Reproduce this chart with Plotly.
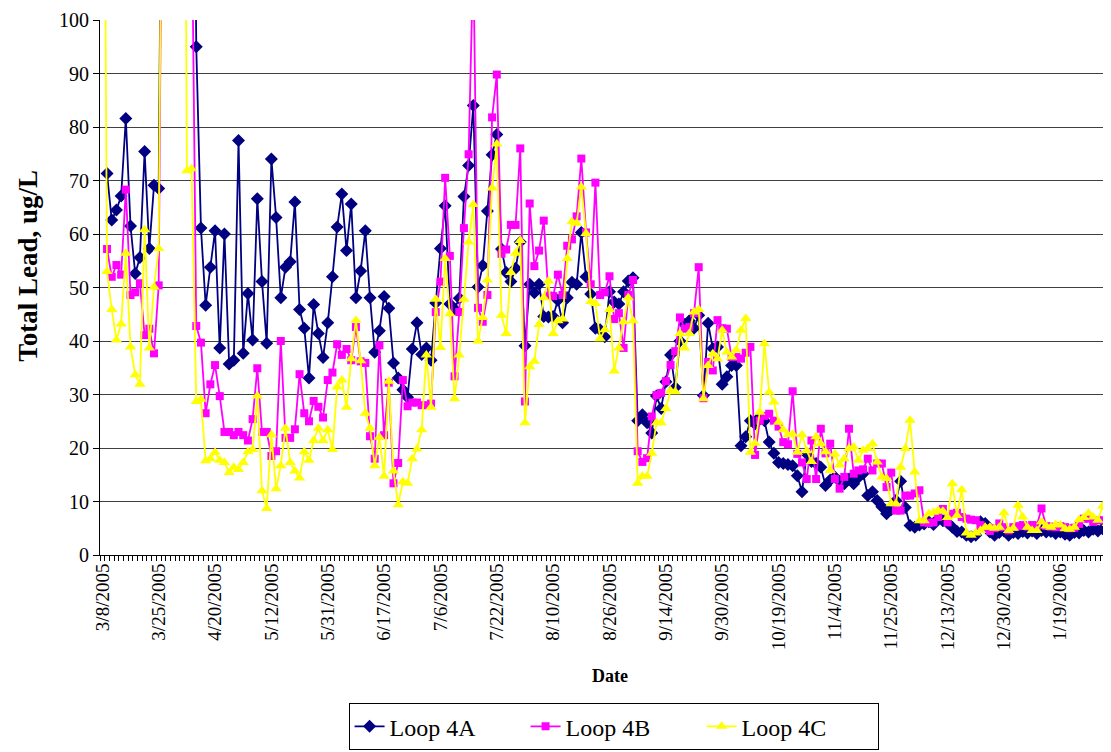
import plotly.graph_objects as go

# x-axis labels, one every 12 sampling points
date_labels = ["3/8/2005", "3/25/2005", "4/20/2005", "5/12/2005", "5/31/2005", "6/17/2005",
               "7/6/2005", "7/22/2005", "8/10/2005", "8/26/2005", "9/14/2005", "9/30/2005",
               "10/19/2005", "11/4/2005", "11/25/2005", "12/13/2005", "12/30/2005", "1/19/2006"]
label_step = 12

# Total lead, ug/L (values above 100 run off the top of the chart)
loop_4a = [None, 71.3, 62.6, 64.5, 67.1, 81.6, 61.5, 52.6, 55.6, 75.4, 57.3, 69.1,
           68.5, 180, None, None, None, None, None, 200, 95.0, 61.1, 46.7, 53.8,
           60.6, 38.7, 60.0, 35.7, 36.4, 77.5, 37.7, 48.9, 40.2, 66.6, 51.1, 39.6,
           74.0, 63.1, 48.1, 53.8, 54.8, 66.0, 45.9, 42.4, 33.1, 46.8, 41.4, 36.9,
           43.4, 52.0, 61.3, 67.5, 56.9, 65.6, 48.1, 53.1, 60.6, 48.1, 37.9, 41.9,
           48.3, 46.1, 35.9, 33.1, 30.9, 29.5, 38.5, 43.4, 37.5, 38.7, 36.4, 47.1,
           57.3, 65.3, 46.9, 46.0, 48.0, 67.0, 72.8, 84.0, 50.1, 54.1, 64.3, 74.8,
           78.6, 57.2, 52.8, 51.1, 53.6, 58.5, 39.1, 50.6, 49.0, 50.6, 44.6, 44.5,
           44.6, 47.6, 43.4, 48.1, 51.0, 50.6, 60.3, 52.0, 48.8, 42.4, 42.1, 40.8,
           49.2, 47.3, 46.9, 49.2, 51.2, 51.8, 25.1, 26.2, 24.7, 22.8, 29.7, 27.4,
           32.4, 37.4, 31.3, 40.0, 43.1, 43.8, 42.4, 44.8, 29.8, 43.3, 38.6, 38.9,
           31.9, 33.3, 35.4, 35.4, 20.4, 22.1, 25.1, 24.5, 25.8, 25.1, 21.1, 19.0,
           17.3, 17.1, 16.9, 16.7, 14.8, 11.8, 18.9, 17.5, 17.1, 16.4, 13.0, 14.0,
           14.6, 13.8, 13.3, 14.2, 13.3, 14.5, 15.2, 11.1, 11.8, 10.2, 9.0, 7.7,
           8.5, 10.2, 13.8, 8.9, 5.5, 5.2, 5.6, 5.8, 6.2, 5.7, 6.8, 6.4,
           6.0, 5.2, 4.4, 4.3, 3.7, 3.4, 3.7, 6.2, 5.9, 4.3, 3.7, 4.2,
           4.5, 3.7, 4.2, 4.0, 4.4, 4.1, 4.5, 4.0, 4.6, 4.3, 4.4, 4.0,
           4.3, 3.9, 3.7, 4.2, 4.1, 4.6, 4.3, 4.8, 4.5, 4.9, 4.6, 5.0,
           5.1]

loop_4b = [None, 57.2, 52.0, 54.2, 52.4, 68.3, 48.6, 49.1, 50.8, 41.1, 42.3, 37.7,
           50.4, 170, None, None, None, None, None, 125, 42.8, 39.7, 26.5, 31.9,
           35.5, 29.7, 23.0, 23.0, 22.4, 23.0, 22.4, 21.4, 25.4, 34.9, 23.0, 23.0,
           18.5, 19.4, 40.0, 21.9, 21.9, 23.5, 33.8, 26.5, 25.0, 28.8, 27.7, 25.7,
           32.7, 34.1, 39.4, 37.4, 38.5, 36.4, 42.6, 36.2, 35.9, 22.2, 18.0, 39.2,
           22.4, 32.2, 13.4, 17.2, 32.7, 27.8, 28.5, 28.5, 28.0, 28.0, 28.3, 45.4,
           51.1, 70.5, 55.9, 33.4, 45.4, 61.1, 74.9, 112, 46.2, 43.6, 48.6, 81.8,
           89.8, 56.3, 57.1, 61.7, 61.7, 76.0, 28.7, 65.7, 54.0, 56.9, 62.5, 48.5,
           48.4, 52.4, 48.6, 57.8, 59.0, 63.3, 74.1, 60.3, 50.6, 69.6, 48.6, 49.1,
           52.1, 44.1, 45.2, 38.7, 48.6, 51.4, 19.4, 17.4, 18.1, 25.9, 29.9, 30.3,
           32.5, 35.5, 38.1, 44.4, 42.3, 42.6, 45.2, 53.8, 29.3, 36.1, 34.5, 43.9,
           42.4, 42.3, 37.0, 37.0, 36.7, 37.8, 38.9, 18.7, 25.1, 26.0, 26.4, 25.1,
           24.0, 21.1, 20.7, 30.6, 18.9, 17.3, 14.2, 21.4, 14.2, 23.6, 19.0, 20.8,
           14.2, 12.4, 14.6, 23.6, 15.2, 15.8, 16.0, 18.0, 15.8, 17.1, 17.1, 12.7,
           15.4, 8.3, 8.3, 11.1, 11.1, 11.5, 12.1, 6.1, 6.0, 6.1, 7.1, 8.6,
           6.1, 7.7, 7.9, 7.1, 6.8, 6.6, 6.5, 5.6, 5.0, 4.5, 5.0, 5.9,
           5.2, 4.6, 5.2, 5.4, 5.6, 5.3, 5.6, 5.5, 8.7, 5.4, 5.3, 5.2,
           5.4, 5.2, 5.0, 5.1, 5.8, 6.8, 6.8, 6.2, 6.5, 6.5, 6.0, 6.5,
           7.9]

loop_4c = [200, 53.0, 45.9, 40.2, 43.2, 56.4, 38.9, 33.7, 31.9, 60.8, 38.7, 50.1,
           57.3, 180, None, None, None, 250, 71.8, 72.2, 28.7, 29.1, 17.6, 18.0,
           19.2, 17.7, 17.3, 15.4, 16.4, 16.0, 17.3, 19.3, 19.7, 29.7, 12.0, 8.7,
           22.5, 12.4, 16.7, 23.7, 17.3, 15.7, 14.4, 19.3, 17.7, 21.4, 23.7, 21.4,
           23.4, 19.7, 31.4, 32.7, 27.6, 36.7, 43.9, 36.3, 26.5, 23.7, 16.7, 22.0,
           14.7, 32.5, 15.7, 9.4, 13.7, 13.4, 18.0, 19.8, 23.4, 37.4, 27.6, 47.8,
           38.8, 55.4, 45.1, 29.2, 37.4, 47.8, 58.5, 65.5, 40.0, 44.4, 51.4, 68.6,
           76.8, 44.8, 41.4, 52.8, 56.4, 58.8, 24.7, 35.2, 36.2, 43.1, 48.1, 51.2,
           41.4, 43.8, 44.1, 55.4, 62.3, 62.0, 68.8, 60.1, 47.4, 47.0, 40.4, 42.1,
           45.9, 34.4, 38.7, 43.6, 48.1, 43.8, 13.4, 14.7, 14.7, 19.0, 24.7, 24.7,
           27.4, 30.7, 30.5, 41.4, 38.7, 41.4, 45.4, 45.9, 29.2, 35.4, 37.6, 36.7,
           42.0, 37.9, 37.0, 38.3, 42.0, 44.2, 19.2, 20.9, 26.7, 39.5, 30.4, 28.6,
           24.8, 23.4, 22.5, 22.6, 19.2, 22.5, 19.5, 17.5, 22.1, 20.8, 19.3, 15.8,
           18.9, 16.8, 18.0, 19.9, 20.2, 17.7, 19.6, 19.9, 20.8, 17.4, 14.6, 14.3,
           9.6, 9.6, 16.4, 19.9, 25.2, 15.5, 6.4, 6.4, 7.7, 8.0, 8.3, 8.2,
           7.0, 13.3, 7.4, 12.2, 4.1, 3.7, 4.1, 4.6, 5.2, 5.2, 5.0, 5.2,
           7.9, 4.6, 5.0, 9.3, 7.1, 5.2, 4.6, 4.6, 6.2, 5.4, 5.2, 5.7,
           5.6, 4.9, 4.8, 5.2, 6.6, 7.0, 7.8, 7.1, 6.5, 9.1, 5.9, 8.7,
           7.5]

x = list(range(len(loop_4a)))
serif = "Liberation Serif"

fig = go.Figure()

series = [
    ("Loop 4A", loop_4a, "#000080", "diamond", 10),
    ("Loop 4B", loop_4b, "#FF00FF", "square", 8),
    ("Loop 4C", loop_4c, "#FFFF00", "triangle-up", 10),
]
for name, vals, color, symbol, size in series:
    fig.add_trace(go.Scatter(
        x=x, y=vals, name=name, mode="lines+markers",
        line=dict(color=color, width=1.8),
        marker=dict(symbol=symbol, size=size, color=color),
    ))

fig.update_layout(
    width=1111, height=752,
    margin=dict(l=92, r=0, t=12, b=205),
    paper_bgcolor="white", plot_bgcolor="white",
    font=dict(family=serif, color="black"),
    legend=dict(
        orientation="h", x=0.504, xanchor="center", y=-0.277, yanchor="top",
        font=dict(family=serif, size=24, color="black"),
        bordercolor="black", borderwidth=1,
        entrywidth=131, entrywidthmode="pixels", itemwidth=30,
    ),
    annotations=[
        dict(text="<b>Date</b>", xref="paper", yref="paper", x=0.5, y=-0.227,
             xanchor="center", yanchor="middle", showarrow=False,
             font=dict(family=serif, size=18)),
        dict(text="<b>Total Lead, ug/L</b>", xref="paper", yref="paper", x=-0.071, y=0.54,
             xanchor="center", yanchor="middle", textangle=-90, showarrow=False,
             font=dict(family=serif, size=27)),
    ],
)

fig.update_xaxes(
    range=[-0.5, len(x) - 0.5],
    tickmode="array",
    tickvals=[i * label_step for i in range(len(date_labels))],
    ticktext=date_labels,
    tickangle=-90, tickfont=dict(family=serif, size=19),
    ticks="", showgrid=False, zeroline=False,
    showline=True, linecolor="black", linewidth=1,
    minor=dict(ticks="outside", tick0=0.5, dtick=1, ticklen=5,
               tickcolor="black", showgrid=False),
)

fig.update_yaxes(
    range=[0, 100], tick0=0, dtick=10,
    ticks="outside", ticklen=6, tickcolor="black",
    tickfont=dict(family=serif, size=20),
    showline=True, linecolor="black", linewidth=1,
    showgrid=True, gridcolor="#404040", gridwidth=1,
    zeroline=False,
)

fig.write_html("out.html")
